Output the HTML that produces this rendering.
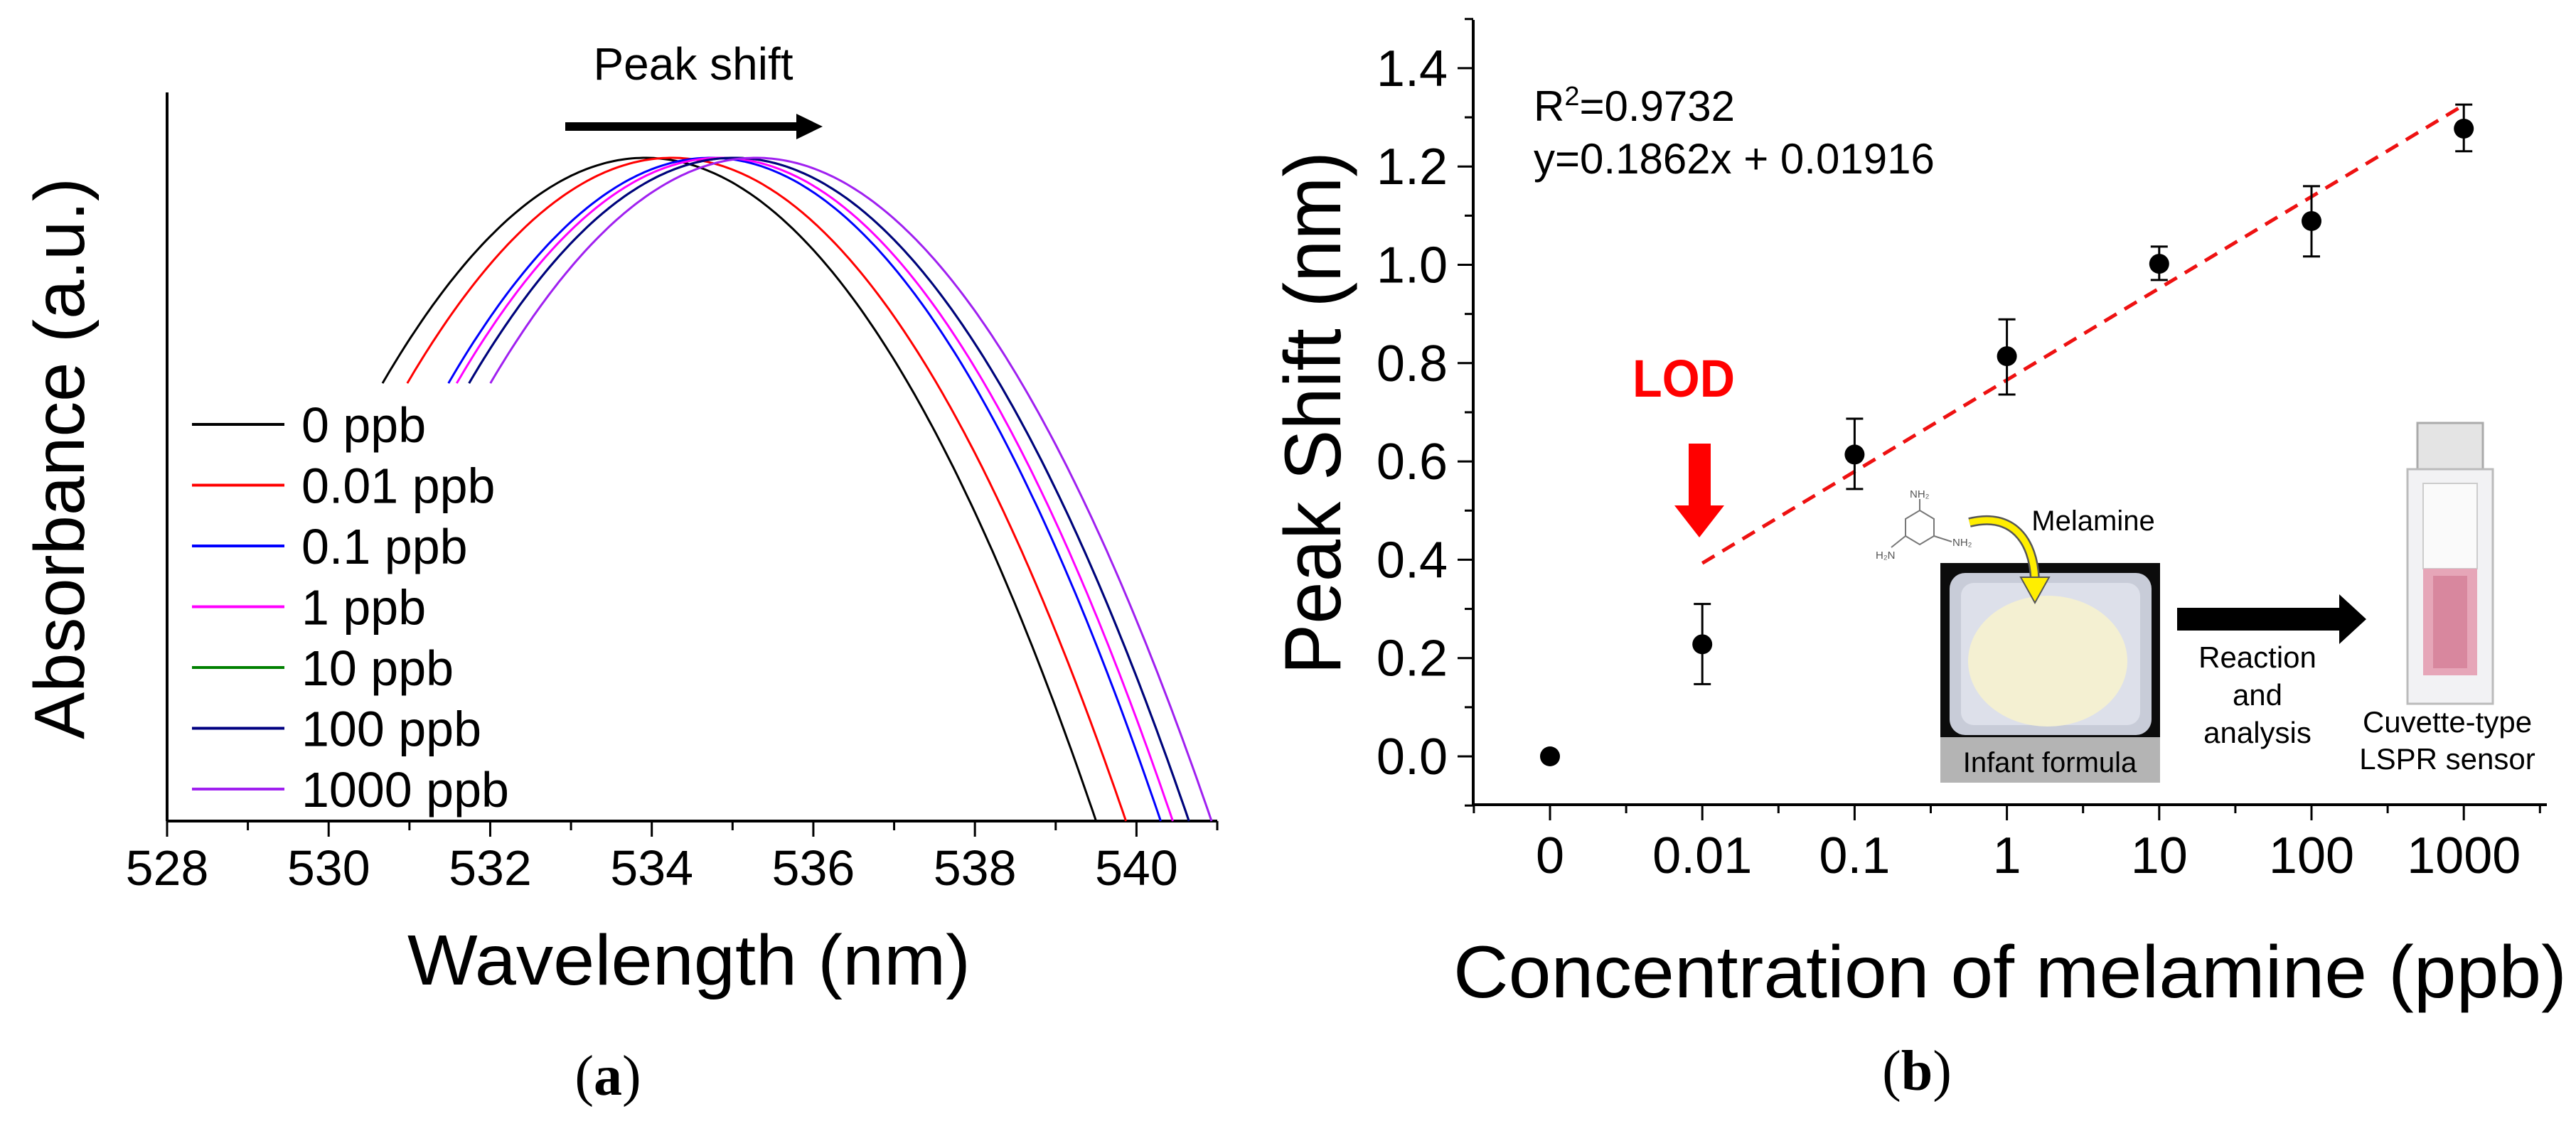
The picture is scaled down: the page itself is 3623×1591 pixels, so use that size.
<!DOCTYPE html>
<html><head><meta charset="utf-8"><style>
html,body{margin:0;padding:0;background:#fff;}
svg{display:block;font-family:"Liberation Sans",Arial,sans-serif;}
</style></head><body>
<svg id="fig" width="3623" height="1591" viewBox="0 0 3623 1591" xmlns="http://www.w3.org/2000/svg">
<rect width="3623" height="1591" fill="#fff"/>
<g id="pa"></g>
<g id="pb"></g>
</svg>
<script>
// ---------- Panel (a) data ----------
const seriesLabels = ["0 ppb","0.01 ppb","0.1 ppb","1 ppb","10 ppb","100 ppb","1000 ppb"];
const seriesColors = ["#000000","#ff0000","#0000ff","#ff00ff","#008000","#000080","#a020f0"];
const peakCenters = [533.92,534.25,534.73,534.85,535.02,535.02,535.29];
const peakWidths = [5.58,5.62,5.57,5.60,5.63,5.63,5.64];
const wlTicks = [528,530,532,534,536,538,540];
// ---------- Panel (b) data ----------
const concLabels = ["0","0.01","0.1","1","10","100","1000"];
const shiftValues = [0.0,0.228,0.614,0.814,1.002,1.089,1.277];
const errHigh = [0.0,0.31,0.687,0.889,1.037,1.16,1.326];
const errLow = [0.0,0.147,0.544,0.736,0.969,1.017,1.231];
const fitStart = [1,0.393];
const fitEnd = [6,1.325];
const yTicksB = [0.0,0.2,0.4,0.6,0.8,1.0,1.2,1.4];

const NS="http://www.w3.org/2000/svg";
function mk(parent,tag,attrs,text){const e=document.createElementNS(NS,tag);for(const k in attrs)e.setAttribute(k,attrs[k]);if(text!==undefined)e.textContent=text;parent.appendChild(e);return e;}

// ===== Panel A =====
const pa=document.getElementById('pa');
const ax0=235, ax1=1712, ayB=1155, ayT=130;
const xA=w=>ax0+(w-528)*(ax1-ax0)/13;
const peakY=222;
const yA=f=>ayB-(ayB-peakY)*f;
let e;
e=mk(pa,'line',{x1:ax0,y1:ayT,x2:ax0,y2:ayB,stroke:'#000','stroke-width':4});

e=mk(pa,'line',{x1:ax0,y1:ayB,x2:ax1,y2:ayB,stroke:'#000','stroke-width':4});

for(let w=528;w<=541;w++){
  const major=(w%2===0);
  e=mk(pa,'line',{x1:xA(w),y1:ayB,x2:xA(w),y2:ayB+(major?22:13),stroke:'#000','stroke-width':3});
  
}
wlTicks.forEach(t=>{
  e=mk(pa,'text',{x:xA(t),y:1245,'font-size':70,'text-anchor':'middle'},String(t));
  
});
// curves
peakCenters.forEach((c,i)=>{
  const w=peakWidths[i];
  const xs=c-0.583*w, xe=Math.min(c+w,541);
  let d='';
  for(let k=0;k<=200;k++){
    const x=xs+(xe-xs)*k/200;
    const f=Math.max(0,1-Math.pow((x-c)/w,2));
    d+=(k?'L':'M')+xA(x).toFixed(1)+' '+yA(f).toFixed(1);
  }
  e=mk(pa,'path',{d:d,fill:'none',stroke:seriesColors[i],'stroke-width':3});
  
  
});
// legend
seriesLabels.forEach((s,i)=>{
  const y=597+i*85.5;
  e=mk(pa,'line',{x1:270,y1:y,x2:400,y2:y,stroke:seriesColors[i],'stroke-width':4});
  
  e=mk(pa,'text',{x:424,y:y+25,'font-size':70},s);
  
});
e=mk(pa,'text',{x:975,y:112,'font-size':64,'text-anchor':'middle'},'Peak shift');

e=mk(pa,'path',{d:'M795 172 L1120 172 L1120 160 L1157 178 L1120 196 L1120 184 L795 184 Z',fill:'#000'});

e=mk(pa,'text',{x:0,y:0,'font-size':100,'text-anchor':'middle',transform:'translate(118,645) rotate(-90)',textLength:790,lengthAdjust:'spacingAndGlyphs'},'Absorbance (a.u.)');

e=mk(pa,'text',{x:969,y:1385,'font-size':100,'text-anchor':'middle',textLength:792,lengthAdjust:'spacingAndGlyphs'},'Wavelength (nm)');

e=mk(pa,'text',{x:855,y:1540,'font-size':80,'text-anchor':'middle','font-family':'Liberation Serif, serif'});
e.innerHTML='(<tspan font-weight="bold">a</tspan>)';


// ===== Panel B =====
const pb=document.getElementById('pb');
const bx0=2072,bx1=3582,byT=28,byB=1132;
const xB=i=>2180+i*214.2;
const yB=v=>1064-v*691.5;
e=mk(pb,'line',{x1:bx0,y1:byT,x2:bx0,y2:byB,stroke:'#000','stroke-width':4});

e=mk(pb,'line',{x1:bx0,y1:byB,x2:bx1,y2:byB,stroke:'#000','stroke-width':4});

for(let k=-1;k<=15;k++){
  const v=k*0.1, major=(k>=0&&k%2===0);
  e=mk(pb,'line',{x1:bx0-(major?22:12),y1:yB(v),x2:bx0,y2:yB(v),stroke:'#000','stroke-width':3});
  
}
yTicksB.forEach(v=>{
  e=mk(pb,'text',{x:2036,y:yB(v)+25,'font-size':72,'text-anchor':'end'},v.toFixed(1));
  
});
for(let k=-1;k<=13;k++){
  const i=k/2, major=(k%2===0&&k>=0);
  e=mk(pb,'line',{x1:xB(i),y1:byB,x2:xB(i),y2:byB+(major?22:12),stroke:'#000','stroke-width':3});
  
}
concLabels.forEach((s,i)=>{
  e=mk(pb,'text',{x:xB(i),y:1228,'font-size':72,'text-anchor':'middle'},s);
  
});
// fit line
e=mk(pb,'line',{x1:xB(fitStart[0]),y1:yB(fitStart[1]),x2:xB(fitEnd[0]),y2:yB(fitEnd[1]),stroke:'#ee1111','stroke-width':5,'stroke-dasharray':'20 13'});

shiftValues.forEach((v,i)=>{
  const x=xB(i);
  if(errHigh[i]>errLow[i]){
    e=mk(pb,'path',{d:`M${x} ${yB(errHigh[i])}L${x} ${yB(errLow[i])}M${x-12} ${yB(errHigh[i])}L${x+12} ${yB(errHigh[i])}M${x-12} ${yB(errLow[i])}L${x+12} ${yB(errLow[i])}`,stroke:'#000','stroke-width':3,fill:'none'});
    
  }
  e=mk(pb,'circle',{cx:x,cy:yB(v),r:14,fill:'#000'});
  
});
e=mk(pb,'text',{x:2157,y:170,'font-size':60});
e.innerHTML='R<tspan font-size="38" dy="-22">2</tspan><tspan dy="22">=0.9732</tspan>';

e=mk(pb,'text',{x:2157,y:244,'font-size':60},'y=0.1862x + 0.01916');

e=mk(pb,'text',{x:2296,y:558,'font-size':74,'font-weight':'bold',fill:'#ff0000',textLength:144,lengthAdjust:'spacingAndGlyphs'},'LOD');

e=mk(pb,'path',{d:'M2375 624 L2406 624 L2406 711 L2425 711 L2390 756 L2355 711 L2375 711 Z',fill:'#ff0000'});

// inset
const ins=mk(pb,'g',{});

e=mk(ins,'rect',{x:2729,y:792,width:309,height:309,fill:'#0c0c0c'});

mk(ins,'rect',{x:2742,y:806,width:284,height:228,rx:22,fill:'#c8ccd8'});
mk(ins,'rect',{x:2758,y:820,width:252,height:200,rx:18,fill:'#dde0ea'});
mk(ins,'ellipse',{cx:2880,cy:930,rx:112,ry:92,fill:'#f4f0d2'});
mk(ins,'rect',{x:2729,y:1037,width:309,height:64,fill:'#b4b4b4'});
e=mk(ins,'text',{x:2883,y:1086,'font-size':40,'text-anchor':'middle'},'Infant formula');

e=mk(ins,'text',{x:2944,y:746,'font-size':40,'text-anchor':'middle'},'Melamine');

// molecule
e=mk(ins,'g',{stroke:'#777','stroke-width':2,fill:'none'});
mk(e,'polygon',{points:'2700,718 2720,730 2720,754 2700,766 2680,754 2680,730'});
mk(e,'path',{d:'M2700 718 L2700 702 M2720 754 L2745 762 M2680 754 L2660 770'});
mk(ins,'text',{x:2686,y:700,'font-size':15,fill:'#555'},'NH₂');
mk(ins,'text',{x:2746,y:768,'font-size':15,fill:'#555'},'NH₂');
mk(ins,'text',{x:2638,y:786,'font-size':15,fill:'#555'},'H₂N');
e=mk(ins,'path',{d:'M2770 735 C2830 720 2860 760 2862 815',stroke:'#555','stroke-width':14,fill:'none'});
mk(ins,'path',{d:'M2770 735 C2830 720 2860 760 2862 815',stroke:'#ffee00','stroke-width':9,fill:'none'});
e=mk(ins,'path',{d:'M2842 812 L2882 812 L2862 848 Z',fill:'#ffee00',stroke:'#555','stroke-width':2});

e=mk(ins,'path',{d:'M3062 855 L3290 855 L3290 836 L3328 871 L3290 906 L3290 887 L3062 887 Z',fill:'#000'});

['Reaction','and','analysis'].forEach((s,i)=>{
  e=mk(ins,'text',{x:3175,y:939+i*53,'font-size':42,'text-anchor':'middle'},s);
  
});
// cuvette
e=mk(ins,'g',{});

mk(e,'rect',{x:3400,y:595,width:92,height:70,fill:'#e4e4e4',stroke:'#aaa','stroke-width':3});
mk(e,'rect',{x:3386,y:660,width:120,height:330,fill:'#f2f2f4',stroke:'#bbb','stroke-width':3});
mk(e,'rect',{x:3408,y:680,width:76,height:120,fill:'#fafafa',stroke:'#ccc','stroke-width':2});
mk(e,'rect',{x:3408,y:800,width:76,height:150,fill:'#e6a6b8'});
mk(e,'rect',{x:3422,y:810,width:48,height:130,fill:'#d8879e'});
['Cuvette-type','LSPR sensor'].forEach((s,i)=>{
  e=mk(ins,'text',{x:3442,y:1030+i*52,'font-size':42,'text-anchor':'middle'},s);
  
});
e=mk(pb,'text',{x:0,y:0,'font-size':112,'text-anchor':'middle',transform:'translate(1885,581) rotate(-90)',textLength:736,lengthAdjust:'spacingAndGlyphs'},'Peak Shift (nm)');

e=mk(pb,'text',{x:2827,y:1403,'font-size':104,'text-anchor':'middle',textLength:1566,lengthAdjust:'spacingAndGlyphs'},'Concentration of melamine (ppb)');

e=mk(pb,'text',{x:2696,y:1533,'font-size':80,'text-anchor':'middle','font-family':'Liberation Serif, serif'});
e.innerHTML='(<tspan font-weight="bold">b</tspan>)';

</script>
</body></html>
